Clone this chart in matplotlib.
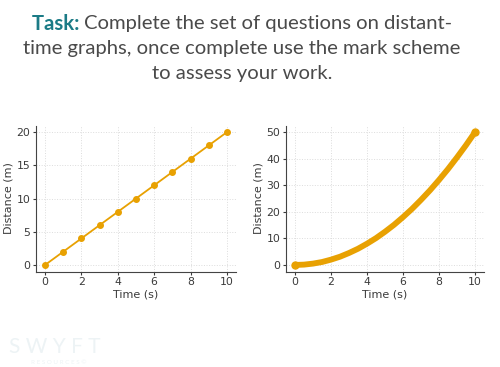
import matplotlib
matplotlib.use("Agg")
import matplotlib.pyplot as plt

# distance-time data
t_linear = [0, 1, 2, 3, 4, 5, 6, 7, 8, 9, 10]
d_linear = [0, 2, 4, 6, 8, 10, 12, 14, 16, 18, 20]

t_curve = [0, 0.5, 1, 1.5, 2, 2.5, 3, 3.5, 4, 4.5, 5, 5.5, 6, 6.5, 7, 7.5, 8, 8.5, 9, 9.5, 10]
d_curve = [0, 0.12, 0.5, 1.1, 2, 3.1, 4.5, 6.1, 8, 10.1, 12.5, 15.1, 18, 21.1, 24.5, 28.1, 32, 36.1, 40.5, 45.1, 50]

x_ticks = [0, 2, 4, 6, 8, 10]
y_ticks_left = [0, 5, 10, 15, 20]
y_ticks_right = [0, 10, 20, 30, 40, 50]

orange = '#E8A102'
text_col = '#3a3a3a'
title_font = ['Lato', 'DejaVu Sans']

fig = plt.figure(figsize=(5, 3.67), dpi=100)

# faint watermark
fig.text(0.11, 0.055, 'S W Y F T', fontsize=15, color='#edf3f5', ha='center', va='center',
         family=title_font)
fig.text(0.118, 0.012, 'R E S O U R C E S ©', fontsize=4.5, color='#edf3f5', ha='center',
         va='center', family=title_font)

# title: bold "Task:" followed by the rest of line 1, centred as one line
fs = 14.6
cx = 0.484
lines = ['Complete the set of questions on distant-',
         'time graphs, once complete use the mark scheme',
         'to assess your work.']
renderer = fig.canvas.get_renderer()
t_bold = fig.text(0, 0.935, 'Task: ', fontsize=fs, color='#1b7b86', fontweight='bold',
                  ha='left', va='center', family=title_font)
t_rest = fig.text(0, 0.935, lines[0], fontsize=fs, color='#4a4a4a',
                  ha='left', va='center', family=title_font)
w_bold = t_bold.get_window_extent(renderer).width / fig.bbox.width
w_rest = t_rest.get_window_extent(renderer).width / fig.bbox.width
x0 = cx - (w_bold + w_rest) / 2
t_bold.set_x(x0)
t_rest.set_x(x0 + w_bold)
fig.text(cx, 0.868, lines[1], fontsize=fs, color='#4a4a4a', ha='center', va='center',
         family=title_font)
fig.text(cx, 0.801, lines[2], fontsize=fs, color='#4a4a4a', ha='center', va='center',
         family=title_font)

ax1 = fig.add_axes([0.072, 0.26, 0.40, 0.398])
ax2 = fig.add_axes([0.572, 0.26, 0.396, 0.398])

ax1.plot(t_linear, d_linear, color=orange, marker='o', markersize=4, linewidth=1.3)
ax2.plot(t_curve, d_curve, color=orange, linewidth=4.2, solid_capstyle='round',
         marker='o', markersize=5, markevery=[0, len(t_curve) - 1])

for ax, yt in [(ax1, y_ticks_left), (ax2, y_ticks_right)]:
    ax.set_xticks(x_ticks)
    ax.set_yticks(yt)
    ax.set_xlabel('Time (s)', fontsize=8, color=text_col, labelpad=2)
    ax.set_ylabel('Distance (m)', fontsize=8, color=text_col, labelpad=2)
    ax.tick_params(labelsize=7.8, colors=text_col, length=2, width=0.8, pad=2)
    ax.grid(True, linestyle=':', color='#dcdcdc', linewidth=0.7)
    ax.spines['top'].set_visible(False)
    ax.spines['right'].set_visible(False)
    ax.spines['left'].set_color('#444444')
    ax.spines['bottom'].set_color('#444444')

fig.savefig('out.png', dpi=100)
